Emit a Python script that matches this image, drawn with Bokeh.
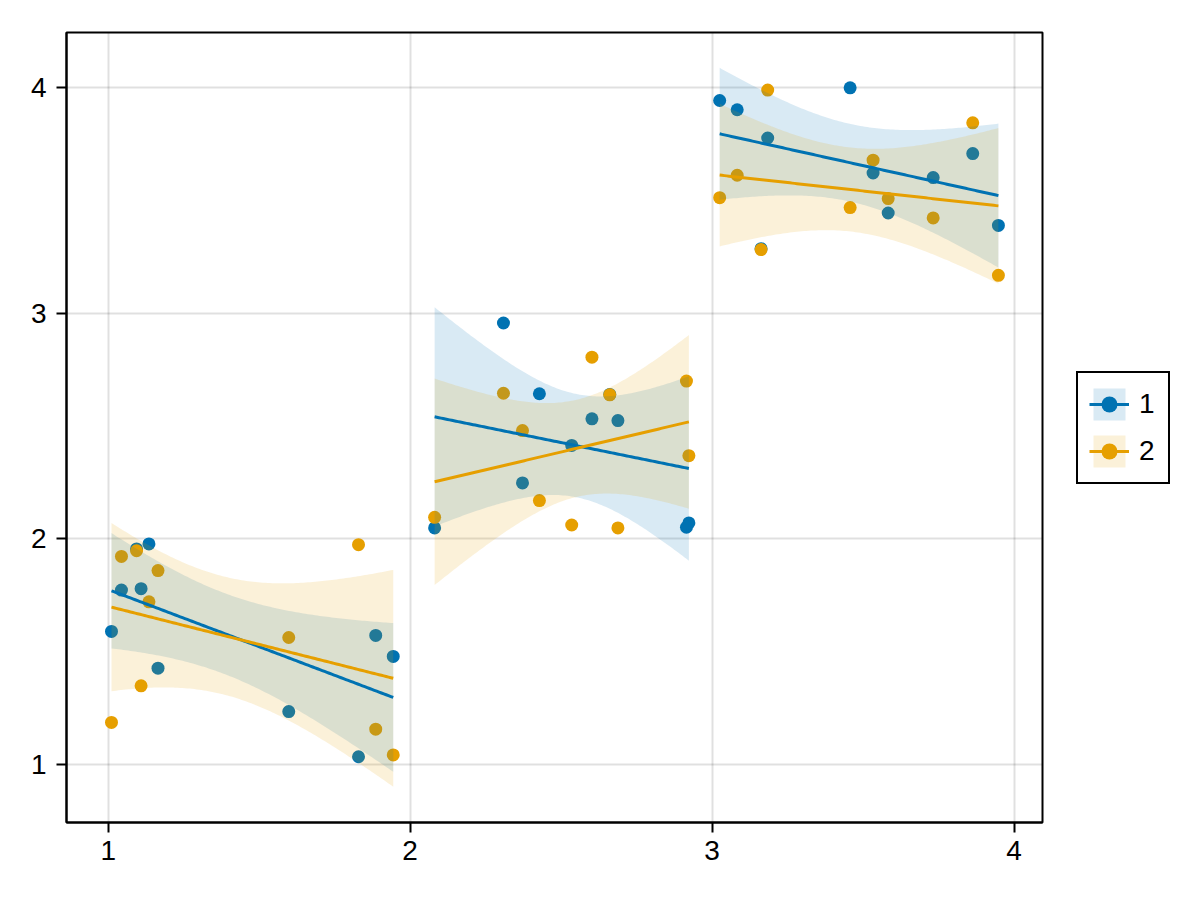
import numpy as np
from bokeh.plotting import figure
from bokeh.layouts import row
from bokeh.models import Legend, LegendItem, FixedTicker, Range1d
from bokeh.embed import file_html
from bokeh.resources import INLINE

# ---- data ----
x_seg1 = [1.011, 1.044, 1.094, 1.109, 1.135, 1.165, 1.598, 1.829, 1.886, 1.944]
x_seg2 = [2.081, 2.309, 2.372, 2.428, 2.535, 2.602, 2.661, 2.688, 2.915, 2.923]
x_seg3 = [3.025, 3.083, 3.162, 3.184, 3.457, 3.533, 3.583, 3.732, 3.863, 3.948]

g1_seg1 = [1.591, 1.774, 1.956, 1.780, 1.978, 1.428, 1.236, 1.036, 1.573, 1.480]
g1_seg2 = [2.049, 2.956, 2.248, 2.643, 2.414, 2.532, 2.640, 2.524, 2.052, 2.071]
g1_seg3 = [3.941, 3.900, 3.285, 3.775, 3.997, 3.620, 3.443, 3.600, 3.706, 3.388]

g2_seg1 = [1.188, 1.923, 1.948, 1.350, 1.722, 1.860, 1.564, 1.975, 1.158, 1.044]
g2_seg2 = [2.096, 2.645, 2.480, 2.170, 2.062, 2.805, 2.638, 2.049, 2.699, 2.369]
g2_seg3 = [3.511, 3.610, 3.281, 3.987, 3.467, 3.677, 3.507, 3.421, 3.842, 3.167]

group_labels = ["1", "2"]
x_ticks = [1, 2, 3, 4]
y_ticks = [1, 2, 3, 4]

T95_DF8 = 2.306  # Student t 97.5% quantile, 8 degrees of freedom


def linear_fit(x, y, npts=120):
    x = np.asarray(x, float)
    y = np.asarray(y, float)
    n = len(x)
    xm, ym = x.mean(), y.mean()
    sxx = ((x - xm) ** 2).sum()
    b = ((x - xm) * (y - ym)).sum() / sxx
    a = ym - b * xm
    s = np.sqrt(((y - (a + b * x)) ** 2).sum() / (n - 2))
    xs = np.linspace(x.min(), x.max(), npts)
    yh = a + b * xs
    se = s * np.sqrt(1.0 / n + (xs - xm) ** 2 / sxx)
    return xs, yh, yh - T95_DF8 * se, yh + T95_DF8 * se


BLUE = "#0072B2"
ORANGE = "#E69F00"
FONT = "Liberation Sans"
FONT_SIZE = "28px"

FW, FH = 976, 790
p = figure(frame_width=FW, frame_height=FH,
           x_range=Range1d(0.862, 4.094), y_range=Range1d(0.745, 4.242),
           output_backend="svg", toolbar_location=None,
           min_border_left=66, min_border_top=32, min_border_bottom=70,
           min_border_right=2)
p.background_fill_color = "white"
p.border_fill_color = "white"
p.outline_line_color = "black"
p.outline_line_width = 2

segs_x = [x_seg1, x_seg2, x_seg3]
groups = [([g1_seg1, g1_seg2, g1_seg3], BLUE), ([g2_seg1, g2_seg2, g2_seg3], ORANGE)]

for ys, col in groups:
    p.scatter(sum(segs_x, []), sum(ys, []), size=13, fill_color=col, line_color=None)

fits = []
for ys, col in groups:
    fits.append([linear_fit(xx, yy) for xx, yy in zip(segs_x, ys)])

for (ys, col), fs in zip(groups, fits):
    for xs, yh, lo, hi in fs:
        p.varea(x=xs, y1=lo, y2=hi, fill_color=col, fill_alpha=0.15)

for (ys, col), fs in zip(groups, fits):
    for xs, yh, lo, hi in fs:
        p.line(xs, yh, line_color=col, line_width=3)

for ax in (p.xaxis[0], p.yaxis[0]):
    ax.ticker = FixedTicker(ticks=x_ticks)
    ax.axis_line_color = "black"
    ax.axis_line_width = 2
    ax.major_tick_line_color = "black"
    ax.major_tick_line_width = 2
    ax.major_tick_out = 10
    ax.major_tick_in = 0
    ax.minor_tick_line_color = None
    ax.major_label_text_font = FONT
    ax.major_label_text_font_size = FONT_SIZE
    ax.major_label_text_color = "black"
p.yaxis[0].ticker = FixedTicker(ticks=y_ticks)
p.xaxis[0].major_label_standoff = 8
p.yaxis[0].major_label_standoff = 10

p.xgrid.ticker = FixedTicker(ticks=x_ticks)
p.ygrid.ticker = FixedTicker(ticks=y_ticks)
for g in (p.xgrid[0], p.ygrid[0]):
    g.grid_line_color = "black"
    g.grid_line_alpha = 0.12
    g.grid_line_width = 2

# ---- legend panel (separate canvas to the right of the axis) ----
# Its view range lies away from the data, so its renderers only feed the legend.
TOTAL_H = 32 + FH + 70
lg = figure(width=156, height=TOTAL_H, x_range=Range1d(-10, -9), y_range=Range1d(-10, -9),
            x_axis_type=None, y_axis_type=None, output_backend="svg",
            toolbar_location=None, min_border=0)
lg.outline_line_color = None
lg.xgrid.visible = False
lg.ygrid.visible = False
lg.background_fill_color = "white"
lg.border_fill_color = "white"

items = []
for i, ((ys, col), fs) in enumerate(zip(groups, fits)):
    xs, yh, lo, hi = fs[0]
    rb = lg.varea(x=xs, y1=lo, y2=hi, fill_color=col, fill_alpha=0.15)
    rl = lg.line(xs, yh, line_color=col, line_width=3)
    rs = lg.scatter(segs_x[0], ys[0], size=13, fill_color=col, line_color=None)
    items.append(LegendItem(label=group_labels[i], renderers=[rb, rl, rs]))

legend = Legend(items=items, location=(32, 338), orientation="vertical",
                glyph_width=40, glyph_height=40, padding=11, spacing=7,
                label_standoff=10, label_width=18, margin=0,
                label_text_font=FONT, label_text_font_size=FONT_SIZE,
                label_text_color="black",
                border_line_color="black", border_line_width=2,
                border_line_alpha=1.0,
                background_fill_color="white", background_fill_alpha=1.0)
lg.add_layout(legend, "center")

layout = row(p, lg)
open("out.html", "w").write(file_html(layout, INLINE))
